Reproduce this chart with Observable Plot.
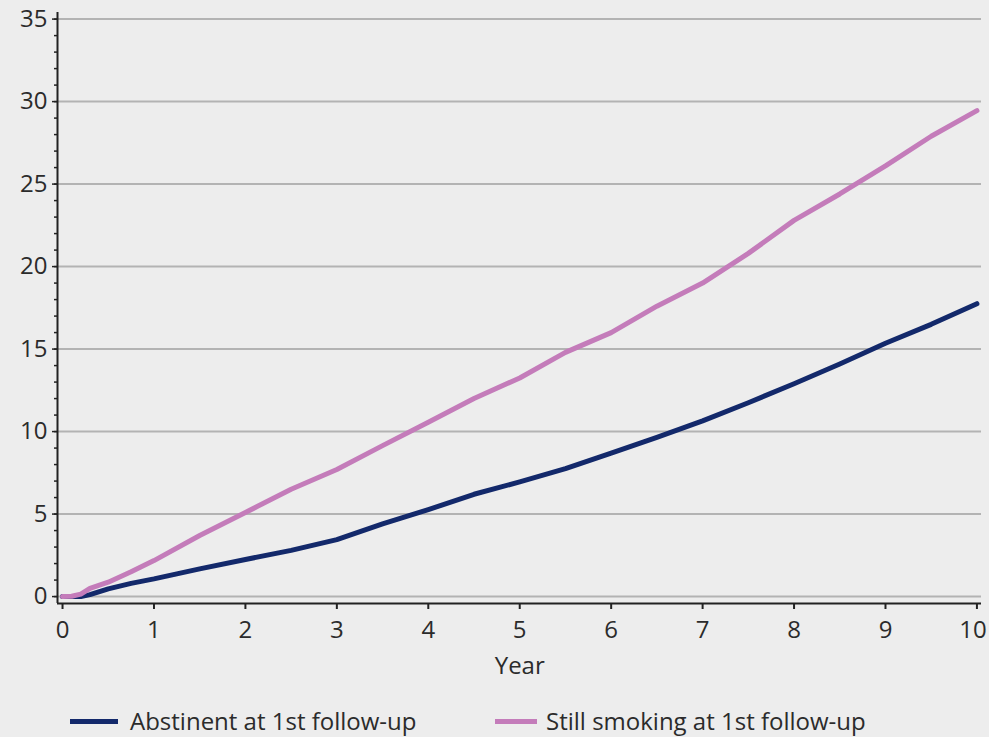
<!DOCTYPE html>
<html>
<head>
<meta charset="utf-8">
<script src="https://cdn.jsdelivr.net/npm/d3@7"></script>
<script src="https://cdn.jsdelivr.net/npm/@observablehq/plot@0.6"></script>
<style>
  html, body { margin: 0; padding: 0; background: #ededed; }
  #chart { width: 989px; height: 737px; position: relative; font-family: "Open Sans", sans-serif; color: #2b2b2b; }
  .legend { position: relative; height: 47px; }
  .item { position: absolute; top: 19px; height: 24px; line-height: 24px; display: flex; align-items: center; font-size: 24px; white-space: nowrap; }
  .sw { display: inline-block; height: 5px; }
</style>
</head>
<body>
<div id="chart"></div>
<script>
const years     = [0, 0.1, 0.2, 0.3, 0.5, 0.75, 1, 1.5, 2, 2.5, 3, 3.5, 4, 4.5, 5, 5.5, 6, 6.5, 7, 7.5, 8, 8.5, 9, 9.5, 10];
const abstinent = [0, 0, 0, 0.12, 0.47, 0.8, 1.07, 1.68, 2.25, 2.8, 3.45, 4.4, 5.27, 6.2, 6.95, 7.75, 8.7, 9.65, 10.65, 11.75, 12.9, 14.1, 15.35, 16.5, 17.75];
const smoking   = [0, 0.02, 0.15, 0.5, 0.87, 1.5, 2.18, 3.7, 5.1, 6.5, 7.7, 9.15, 10.57, 12.0, 13.25, 14.8, 16.0, 17.6, 19.0, 20.8, 22.8, 24.4, 26.1, 27.9, 29.45];
const seriesNames = ["Abstinent at 1st follow-up", "Still smoking at 1st follow-up"];
const seriesColors = ["#13296b", "#c47cba"];
const xTicks = [0, 1, 2, 3, 4, 5, 6, 7, 8, 9, 10];
const xLastTick = [10];
const yTicks = [0, 5, 10, 15, 20, 25, 30, 35];
const yMinor = d3.range(0, 36, 1);

const data = [];
years.forEach((y, i) => {
  data.push({year: y, value: abstinent[i], series: seriesNames[0]});
  data.push({year: y, value: smoking[i], series: seriesNames[1]});
});

const xDom = [-0.055, 10.05];
const yDom = [-0.42, 35.4];

const plot = Plot.plot({
  width: 989,
  height: 690,
  marginTop: 12,
  marginBottom: 87,
  marginLeft: 57,
  marginRight: 8,
  style: {background: "#ededed", fontFamily: "Open Sans, sans-serif", fontSize: "24px", color: "#2b2b2b"},
  x: {domain: xDom, label: null},
  y: {domain: yDom, label: null},
  color: {domain: seriesNames, range: seriesColors},
  marks: [
    Plot.ruleY(yTicks, {stroke: "#b3b3b3", strokeWidth: 2}),
    Plot.axisY({ticks: yMinor, tickSize: 3, tickFormat: () => "", stroke: "#222", strokeWidth: 1.5, label: null}),
    Plot.axisY({ticks: yTicks, tickSize: 5, tickPadding: 5, stroke: "#222", strokeWidth: 1.5, fill: "#2b2b2b", fontSize: 24, label: null}),
    Plot.axisX({ticks: xTicks, tickSize: 6, tickPadding: 11, stroke: "#222", strokeWidth: 2, fill: "#2b2b2b", fontSize: 24, tickFormat: d => (d === 10 ? "" : String(d)), label: null}),
    Plot.axisX({ticks: xLastTick, tickSize: 0, tickPadding: 17, fill: "#2b2b2b", fontSize: 24, dx: -4, label: null}),
    Plot.ruleX([xDom[0]], {stroke: "#222", strokeWidth: 2}),
    Plot.ruleY([yDom[0]], {stroke: "#222", strokeWidth: 2}),
    Plot.text(["Year"], {x: 5, y: yDom[0], frameAnchor: "bottom", dy: 70, text: d => d, fontSize: 24, fill: "#2b2b2b"}),
    Plot.line(data, {x: "year", y: "value", z: "series", stroke: "series", strokeWidth: 5, strokeLinejoin: "round", strokeLinecap: "round"})
  ]
});

const chart = document.getElementById("chart");
chart.appendChild(plot);
const legend = document.createElement("div");
legend.className = "legend";
const lefts = [70, 495];
const swW = [48, 42];
const gaps = [12, 9];
seriesNames.forEach((name, i) => {
  const it = document.createElement("div");
  it.className = "item";
  it.style.left = lefts[i] + "px";
  const sw = document.createElement("span");
  sw.className = "sw";
  sw.style.background = seriesColors[i];
  sw.style.width = swW[i] + "px";
  sw.style.marginRight = gaps[i] + "px";
  const tx = document.createElement("span");
  tx.textContent = name;
  it.appendChild(sw);
  it.appendChild(tx);
  legend.appendChild(it);
});
chart.appendChild(legend);
</script>
</body>
</html>
